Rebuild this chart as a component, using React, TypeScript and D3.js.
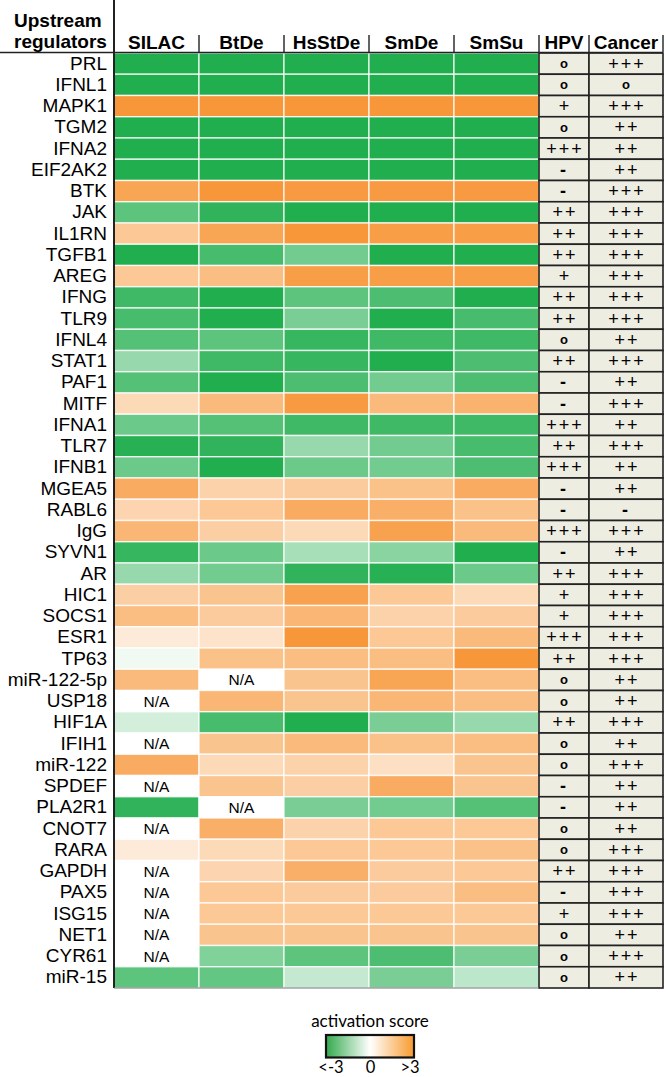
import React from "react";
import * as d3 from "d3";

// Row labels (upstream regulators)
const regulators = [
  "PRL", "IFNL1", "MAPK1", "TGM2", "IFNA2", "EIF2AK2", "BTK", "JAK", "IL1RN", "TGFB1",
  "AREG", "IFNG", "TLR9", "IFNL4", "STAT1", "PAF1", "MITF", "IFNA1", "TLR7", "IFNB1",
  "MGEA5", "RABL6", "IgG", "SYVN1", "AR", "HIC1", "SOCS1", "ESR1", "TP63", "miR-122-5p",
  "USP18", "HIF1A", "IFIH1", "miR-122", "SPDEF", "PLA2R1", "CNOT7", "RARA", "GAPDH", "PAX5",
  "ISG15", "NET1", "CYR61", "miR-15",
];

const datasets = ["SILAC", "BtDe", "HsStDe", "SmDe", "SmSu"];

// activation scores (null = N/A), one array per dataset
const silac = [
  -3, -3, 3, -3, -3, -3, 2.6, -2.2, 1.6, -3,
  1.6, -2.6, -2.5, -2.3, -1.4, -2.3, 1.1, -2.0, -2.9, -2.0,
  2.4, 1.2, 2.1, -2.7, -1.4, 1.4, 1.9, 0.6, -0.2, 2.0,
  null, -0.6, null, 2.4, null, -2.8, null, 0.6, null, null,
  null, null, null, -2.2,
];
const btde = [
  -3, -3, 3, -3, -3, -3, 3, -2.8, 2.6, -2.5,
  1.9, -3, -3, -2.2, -2.6, -3, 2.0, -2.3, -2.8, -3,
  1.3, 1.6, 1.4, -2.0, -1.9, 1.7, 1.5, 0.8, 1.8, null,
  2.1, -2.5, 1.7, 1.1, 1.7, null, 2.3, 1.1, 1.2, 1.6,
  1.6, 1.7, -1.7, -2.1,
];
const hsstde = [
  -3, -3, 3, -3, -3, -3, 2.9, -3, 3, -1.9,
  2.8, -2.2, -1.8, -2.7, -2.7, -2.4, 2.9, -2.6, -1.4, -2.0,
  1.5, 2.4, 1.1, -1.2, -2.8, 2.7, 2.1, 3, 1.9, 1.7,
  1.7, -3, 2.0, 1.3, 1.4, -1.8, 1.3, 1.6, 2.3, 1.5,
  1.6, 1.7, -2.2, -0.8,
];
const smde = [
  -3, -3, 3, -3, -3, -3, 2.9, -3, 2.8, -3,
  2.8, -2.4, -3, -2.6, -3, -1.9, 2.0, -2.6, -1.9, -1.9,
  1.8, 2.3, 2.7, -1.6, -2.9, 1.6, 1.3, 1.6, 1.9, 2.6,
  2.1, -1.8, 1.8, 0.9, 2.4, -1.9, 1.6, 1.6, 1.5, 1.5,
  1.6, 1.7, -2.4, -1.8,
];
const smsu = [
  -3, -3, 3, -3, -3, -3, 2.9, -3, 2.8, -3,
  2.8, -3, -2.5, -2.6, -2.4, -2.4, 2.2, -2.6, -2.5, -2.4,
  2.4, 1.8, 2.0, -3, -2.0, 1.1, 1.5, 2.0, 3, 1.9,
  1.9, -1.4, 1.9, 1.7, 1.7, -2.3, 1.6, 1.8, 1.6, 1.9,
  1.6, 1.7, -1.8, -0.9,
];
const scores = [silac, btde, hsstde, smde, smsu];

const hpv = [
  "o", "o", "+", "o", "+++", "-", "-", "++", "++", "++",
  "+", "++", "++", "o", "++", "-", "-", "+++", "++", "+++",
  "-", "-", "+++", "-", "++", "+", "+", "+++", "++", "o",
  "o", "++", "o", "o", "-", "-", "o", "o", "++", "-",
  "+", "o", "o", "o",
];
const cancer = [
  "+++", "o", "+++", "++", "++", "++", "+++", "+++", "+++", "+++",
  "+++", "+++", "+++", "++", "+++", "++", "+++", "++", "+++", "++",
  "++", "-", "+++", "++", "+++", "+++", "+++", "+++", "+++", "++",
  "++", "+++", "++", "+++", "++", "++", "++", "+++", "+++", "+++",
  "+++", "++", "+++", "++",
];
const annotations = [
  { name: "HPV", values: hpv },
  { name: "Cancer", values: cancer },
];

const legendTicks = ["<-3", "0", ">3"];

const W = 666;
const H = 1077;
const top = 53;
const bottom = 988;
const left = 114;
const heatRight = 539;
const annEdges = [539, 589, 663];

const GREEN = "#21ae4e";
const ORANGE = "#f7973a";

const color = d3
  .scaleLinear<string>()
  .domain([-3, 0, 3])
  .range([GREEN, "#ffffff", ORANGE])
  .clamp(true);

const App: React.FC = () => {
  const y = d3.scaleBand<string>().domain(regulators).range([top, bottom]);
  const x = d3.scaleBand<string>().domain(datasets).range([left, heatRight]);
  const legendX = d3.scalePoint<string>().domain(legendTicks).range([331, 410]);
  const font = "Liberation Sans, Arial, sans-serif";
  const rh = y.bandwidth();

  return (
    <svg
      width={W}
      height={H}
      style={{ position: "absolute", left: 0, top: 0, background: "#fff" }}
    >
      <defs>
        <linearGradient id="legend-grad" x1="0%" x2="100%" y1="0%" y2="0%">
          <stop offset="0%" stopColor="#33a94d" />
          <stop offset="50%" stopColor="#ffffff" />
          <stop offset="100%" stopColor="#f79a2e" />
        </linearGradient>
      </defs>

      {/* header */}
      <g fontFamily={font} fontWeight="bold" fontSize={19}>
        <text x={14} y={27}>Upstream</text>
        <text x={14} y={48}>regulators</text>
      </g>
      <g fontFamily={font} fontWeight="bold" fontSize={19} textAnchor="middle">
        {datasets.map((d) => (
          <text key={d} x={x(d)! + x.bandwidth() / 2} y={49}>
            {d}
          </text>
        ))}
        {annotations.map((a, i) => (
          <text key={a.name} x={(annEdges[i] + annEdges[i + 1]) / 2} y={49}>
            {a.name}
          </text>
        ))}
      </g>
      {/* header separators */}
      <g stroke="#222" strokeWidth={1.4}>
        {datasets.slice(1).map((d) => (
          <line key={d} x1={x(d)!} x2={x(d)!} y1={35} y2={52} />
        ))}
        {annEdges.map((e) => (
          <line key={e} x1={e} x2={e} y1={35} y2={52} />
        ))}
      </g>

      {/* heatmap cells */}
      <g>
        {scores.map((col, ci) =>
          col.map((v, ri) => {
            const cx = x(datasets[ci])!;
            const cy = y(regulators[ri])!;
            return (
              <g key={`${ci}-${ri}`}>
                <rect
                  x={cx}
                  y={cy}
                  width={x.bandwidth()}
                  height={rh}
                  fill={v === null ? "#ffffff" : color(v)}
                  stroke="#ffffff"
                  strokeOpacity={0.8}
                  strokeWidth={1.4}
                />
                {v === null && (
                  <text
                    x={cx + x.bandwidth() / 2}
                    y={cy + rh / 2 + 5.5}
                    textAnchor="middle"
                    fontFamily={font}
                    fontSize={15.5}
                  >
                    N/A
                  </text>
                )}
              </g>
            );
          })
        )}
      </g>

      {/* annotation columns */}
      <g>
        {annotations.map((a, ai) =>
          a.values.map((v, ri) => {
            const x0 = annEdges[ai];
            const x1 = annEdges[ai + 1];
            const cy = y(regulators[ri])!;
            const isO = v === "o";
            return (
              <g key={`${a.name}-${ri}`}>
                <rect
                  x={x0}
                  y={cy}
                  width={x1 - x0}
                  height={rh}
                  fill="#eeede2"
                  stroke="#222"
                  strokeWidth={1.6}
                />
                <text
                  x={(x0 + x1) / 2 + (isO || v === "-" ? 0 : 1)}
                  y={cy + rh / 2 + (isO ? 4.5 : 6)}
                  textAnchor="middle"
                  fontFamily={font}
                  fontSize={isO ? 13 : 18}
                  fontWeight={isO || v === "-" ? "bold" : "normal"}
                  letterSpacing={isO ? 0 : 2}
                >
                  {v}
                </text>
              </g>
            );
          })
        )}
      </g>

      {/* row labels */}
      <g fontFamily={font} fontSize={19} textAnchor="end">
        {regulators.map((r) => (
          <text key={r} x={107} y={y(r)! + rh / 2 + 6}>
            {r}
          </text>
        ))}
      </g>

      {/* frame lines */}
      <line x1={114} x2={114} y1={0} y2={bottom} stroke="#222" strokeWidth={2} />
      <line x1={0} x2={annEdges[2]} y1={52.5} y2={52.5} stroke="#222" strokeWidth={1.6} />
      <line x1={114} x2={heatRight} y1={bottom} y2={bottom} stroke="#777" strokeWidth={1.2} />

      {/* legend */}
      <text
        x={370}
        y={1027}
        textAnchor="middle"
        fontFamily="Lato, sans-serif"
        fontSize={17}
      >
        activation score
      </text>
      <rect
        x={326}
        y={1035}
        width={88}
        height={22.5}
        fill="url(#legend-grad)"
        stroke="#111"
        strokeWidth={2.2}
      />
      <g fontFamily="Lato, sans-serif" fontSize={16.5} textAnchor="middle">
        {legendTicks.map((t) => (
          <text key={t} x={legendX(t)!} y={1073}>
            {t}
          </text>
        ))}
      </g>
    </svg>
  );
};

export default App;
